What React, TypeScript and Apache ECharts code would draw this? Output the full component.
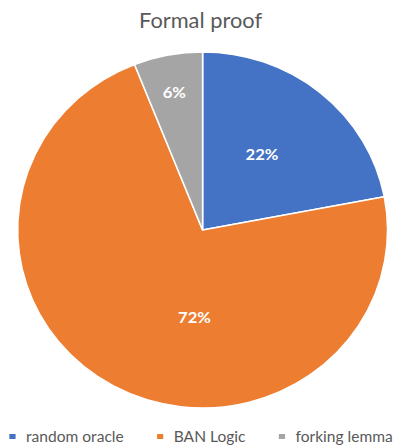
import React, { useEffect, useRef } from "react";
import * as echarts from "echarts";

const title = "Formal proof";
const categories = ["random oracle", "BAN Logic", "forking lemma"];
const values = [22, 72, 6];
const colors = ["#4472c4", "#ed7d31", "#a5a5a5"];
const labelOffsets: [number, number][] = [[-1.5, -5.5], [36.5, 6], [-10, -48.5]];

const STRETCH = 1.039;
const W = Math.round(401 / STRETCH);
const H = 445;

export default function App() {
  const ref = useRef<HTMLDivElement>(null);
  useEffect(() => {
    if (!ref.current) return;
    const chart = echarts.init(ref.current, null, { renderer: "svg" });
    chart.setOption({
      animation: false,
      backgroundColor: "#ffffff",
      title: {
        text: title,
        left: "center",
        top: 5,
        textStyle: { fontFamily: "Lato", fontSize: 21, fontWeight: "normal", color: "#595959" },
      },
      legend: {
        data: categories,
        orient: "horizontal",
        left: 7,
        top: 429,
        padding: 0,
        width: 700,
        itemWidth: 8,
        itemHeight: 7,
        itemGap: 30,
        icon: "rect",
        textStyle: { fontFamily: "Lato", fontSize: 15, color: "#595959", padding: [0, 0, 0, 4] },
      },
      series: [
        {
          type: "pie",
          center: [195, 230],
          radius: 178,
          startAngle: 90,
          clockwise: true,
          avoidLabelOverlap: false,
          itemStyle: { borderColor: "#ffffff", borderWidth: 1.5 },
          label: {
            show: true,
            position: "inside",
            color: "#ffffff",
            fontFamily: "Lato",
            fontSize: 16,
            fontWeight: "bold",
            formatter: (p: any) => `${Math.round(p.percent)}%`,
          },
          labelLine: { show: false },
          emphasis: { disabled: true },
          data: categories.map((name, i) => ({
            name,
            value: values[i],
            itemStyle: { color: colors[i] },
            label: { offset: labelOffsets[i] },
          })),
        },
      ],
    });
    return () => chart.dispose();
  }, []);
  return (
    <div
      ref={ref}
      style={{
        position: "fixed",
        left: 0,
        top: 0,
        width: W,
        height: H,
        transform: `scaleX(${STRETCH})`,
        transformOrigin: "0 0",
      }}
    />
  );
}
